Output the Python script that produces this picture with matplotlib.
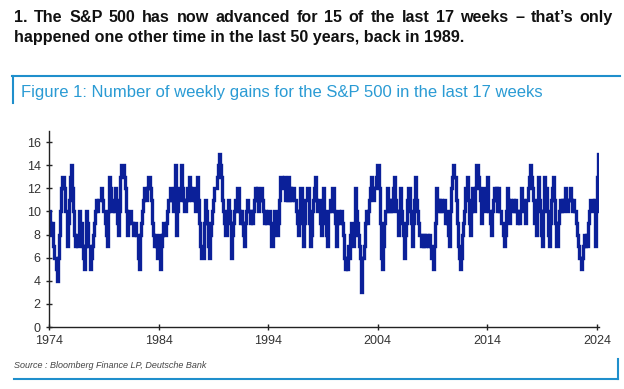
import numpy as np
import matplotlib
matplotlib.use("Agg")
import matplotlib.pyplot as plt

gains_1974_1983 = [10, 9, 8, 9, 7, 6, 5, 4, 6, 8,
                   10, 12, 13, 13, 12, 10, 7, 9, 11, 13,
                   14, 12, 10, 8, 7, 8, 7, 10, 8, 9,
                   7, 6, 5, 7, 10, 9, 7, 5, 6, 7,
                   8, 9, 10, 11, 10, 11, 11, 12, 11, 10,
                   10, 9, 8, 7, 10, 13, 12, 10, 11, 10,
                   12, 11, 9, 8, 10, 13, 14, 14, 13, 12,
                   10, 8, 9, 10, 10, 9, 9, 8, 9, 8,
                   8, 6, 5, 8, 9, 10, 11, 12, 11, 12,
                   13, 13, 12, 11, 9, 8, 7, 8, 7, 6]
gains_1984_1993 = [8, 5, 7, 8, 9, 8, 8, 9, 10, 11,
                   12, 11, 11, 10, 12, 14, 8, 10, 12, 11,
                   14, 12, 11, 10, 10, 11, 12, 11, 13, 12,
                   11, 12, 11, 10, 11, 13, 11, 9, 7, 6,
                   6, 9, 11, 10, 9, 7, 6, 8, 9, 10,
                   11, 12, 12, 13, 14, 15, 14, 13, 11, 10,
                   9, 8, 10, 11, 10, 9, 6, 8, 9, 10,
                   11, 10, 12, 10, 9, 10, 9, 8, 7, 9,
                   10, 11, 10, 9, 10, 9, 10, 11, 12, 11,
                   12, 10, 11, 12, 11, 10, 9, 10, 9, 9]
gains_1994_2003 = [10, 10, 9, 7, 8, 10, 10, 9, 8, 9,
                   11, 13, 13, 12, 13, 11, 12, 11, 13, 11,
                   12, 11, 12, 12, 11, 10, 9, 8, 10, 12,
                   12, 9, 7, 9, 11, 12, 12, 9, 7, 8,
                   10, 11, 12, 13, 11, 10, 11, 9, 8, 10,
                   12, 10, 9, 8, 7, 10, 11, 10, 12, 12,
                   10, 9, 7, 9, 10, 9, 10, 9, 8, 6,
                   5, 6, 5, 7, 6, 8, 9, 7, 8, 12,
                   10, 9, 8, 7, 6, 3, 6, 7, 9, 10,
                   9, 10, 11, 12, 13, 12, 11, 12, 13, 14]
gains_2004_2013 = [14, 12, 9, 6, 5, 7, 9, 10, 12, 10,
                   11, 10, 11, 10, 12, 13, 11, 10, 8, 10,
                   12, 10, 9, 8, 6, 8, 9, 11, 12, 10,
                   9, 7, 9, 11, 13, 11, 10, 9, 8, 7,
                   8, 7, 8, 7, 8, 8, 7, 8, 7, 6,
                   5, 7, 9, 12, 11, 10, 11, 10, 11, 10,
                   11, 9, 10, 9, 8, 7, 10, 12, 13, 14,
                   13, 11, 9, 7, 6, 5, 6, 8, 9, 10,
                   12, 13, 11, 9, 8, 10, 12, 11, 10, 12,
                   14, 13, 12, 11, 9, 11, 12, 11, 10, 11]
gains_2014_2024 = [13, 10, 9, 8, 10, 11, 12, 11, 12, 10,
                   12, 10, 9, 9, 8, 7, 8, 10, 12, 11,
                   9, 11, 10, 11, 10, 11, 10, 9, 10, 9,
                   10, 12, 11, 10, 9, 11, 11, 12, 13, 14,
                   13, 12, 11, 9, 8, 11, 13, 11, 10, 8,
                   7, 10, 13, 12, 10, 8, 7, 9, 11, 12,
                   13, 11, 9, 7, 9, 10, 11, 10, 11, 10,
                   11, 12, 11, 10, 11, 12, 11, 10, 11, 10,
                   10, 9, 8, 7, 6, 5, 6, 7, 8, 7,
                   8, 7, 9, 10, 11, 11, 10, 11, 7, 10,
                   13, 15]

gains = np.array(gains_1974_1983 + gains_1984_1993 + gains_1994_2003
                 + gains_2004_2013 + gains_2014_2024)
years = 1974 + np.arange(len(gains)) / 10.0

xticks = [1974, 1984, 1994, 2004, 2014, 2024]
yticks = list(range(0, 17, 2))

header1 = "1. The S&P 500 has now advanced for 15 of the last 17 weeks \u2013 that\u2019s only"
header2 = "happened one other time in the last 50 years, back in 1989."
title = "Figure 1: Number of weekly gains for the S&P 500 in the last 17 weeks"
source = "Source : Bloomberg Finance LP, Deutsche Bank"

W, H = 624, 389
fig = plt.figure(figsize=(W / 100, H / 100), dpi=100)
fig.patch.set_facecolor("white")

blue = "#1f8fcc"
sans = ["Liberation Sans", "DejaVu Sans"]
hdr = dict(fontsize=11.6, fontweight="bold", family=sans, color="#111111",
           va="baseline", ha="left")

# header line 1 is justified between x=14 and x=613
renderer = fig.canvas.get_renderer()
words = header1.split(" ")
wtexts = [fig.text(0, 1 - 22 / H, w, **hdr) for w in words]
widths = [t.get_window_extent(renderer).width for t in wtexts]
gap = (613 - 14 - sum(widths)) / (len(words) - 1)
x = 14
for t, w in zip(wtexts, widths):
    t.set_x(x / W)
    x += w + gap
fig.text(14 / W, 1 - 42 / H, header2, **hdr)

# figure title frame
fig.add_artist(plt.Line2D([12 / W, 620 / W], [1 - 76 / H, 1 - 76 / H], color=blue, lw=1.5))
fig.add_artist(plt.Line2D([13 / W, 13 / W], [1 - 76 / H, 1 - 103 / H], color=blue, lw=1.5))
fig.text(21 / W, 1 - 93 / H, title, ha="left", va="center", fontsize=12,
         family=sans, color="#2a9bd4")

# bottom frame + source
fig.add_artist(plt.Line2D([14 / W, 618 / W], [1 - 379 / H, 1 - 379 / H], color=blue, lw=1.5))
fig.add_artist(plt.Line2D([618 / W, 618 / W], [1 - 359 / H, 1 - 379 / H], color=blue, lw=1.5))
fig.text(14 / W, 1 - 365 / H, source, ha="left", va="center", fontsize=6.5,
         style="italic", family=sans, color="#444444")

# chart
ax = fig.add_axes([49 / W, 62 / H, 549.6 / W, 196.5 / H])
ax.plot(years, gains, color="#0b2099", lw=2.4, drawstyle="steps-post",
        solid_joinstyle="miter")
ax.set_xlim(1974, 2024.15)
ax.set_ylim(0, 17)
ax.set_xticks(xticks)
ax.set_yticks(yticks)
for s in ["top", "right"]:
    ax.spines[s].set_visible(False)
for s in ["left", "bottom"]:
    ax.spines[s].set_color("#222222")
    ax.spines[s].set_linewidth(1.0)
ax.tick_params(axis="both", direction="inout", length=5, width=1.0,
               colors="#222222", labelsize=9, labelcolor="#333333")
ax.tick_params(axis="x", pad=3)
for lab in ax.get_xticklabels() + ax.get_yticklabels():
    lab.set_family(sans)

fig.savefig("out.png", dpi=100, facecolor="white")
